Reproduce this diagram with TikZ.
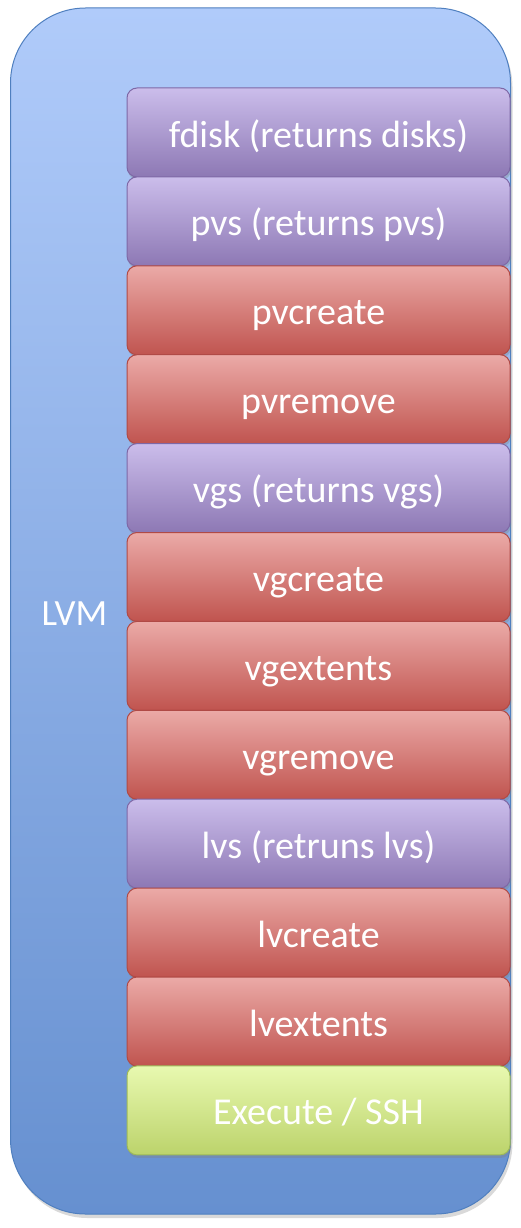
\documentclass[tikz,border=0pt]{standalone}
\usepackage{fontspec}
\setmainfont{Carlito}
\usetikzlibrary{shadows}
\definecolor{purpT}{HTML}{CBBDEB}
\definecolor{purpB}{HTML}{8D78B4}
\definecolor{purpD}{HTML}{7E68A6}
\definecolor{redT}{HTML}{EBAAA7}
\definecolor{redB}{HTML}{C0544F}
\definecolor{redD}{HTML}{B04A46}
\definecolor{grnT}{HTML}{E8F9B0}
\definecolor{grnB}{HTML}{BCD36B}
\definecolor{grnD}{HTML}{9DB959}
\definecolor{bluT}{HTML}{B0CBFA}
\definecolor{bluB}{HTML}{6690D0}
\definecolor{bluD}{HTML}{4F7FBF}
\tikzset{
  cmdbox/.style={rectangle, rounded corners=10pt, minimum width=383pt, minimum height=89pt,
    text=white, font=\fontsize{38}{42}\selectfont, line width=1pt,
    text height=36pt, text depth=7pt,
    drop shadow={shadow xshift=1pt, shadow yshift=-3pt, opacity=0.35}},
  purp/.style={cmdbox, draw=purpD, top color=purpT, bottom color=purpB},
  redb/.style={cmdbox, draw=redD, top color=redT, bottom color=redB},
  grnb/.style={cmdbox, draw=grnD, top color=grnT, bottom color=grnB},
}
\begin{document}
\begin{tikzpicture}[x=1pt,y=-1pt]
\useasboundingbox (0,0) rectangle (521,1228);
\node[rectangle, rounded corners=75pt, minimum width=500pt, minimum height=1206pt,
  draw=bluD, line width=1pt, top color=bluT, bottom color=bluB,
  drop shadow={shadow xshift=2pt, shadow yshift=-4pt, opacity=0.3}] (lvmbox) at (260.5,611) {};
\node[text=white, font=\fontsize{37}{42}\selectfont] (lvm) at (74.5,614) {LVM};
\node[purp] (n1)  at (318.5, 132.5) {fdisk (returns disks)};
\node[purp] (n2)  at (318.5, 221.4) {pvs (returns pvs)};
\node[redb] (n3)  at (318.5, 310.3) {pvcreate};
\node[redb] (n4)  at (318.5, 399.2) {pvremove};
\node[purp] (n5)  at (318.5, 488.1) {vgs (returns vgs)};
\node[redb] (n6)  at (318.5, 577.0) {vgcreate};
\node[redb] (n7)  at (318.5, 665.9) {vgextents};
\node[redb] (n8)  at (318.5, 754.8) {vgremove};
\node[purp] (n9)  at (318.5, 843.7) {lvs (retruns lvs)};
\node[redb] (n10) at (318.5, 932.6) {lvcreate};
\node[redb] (n11) at (318.5, 1021.5) {lvextents};
\node[grnb] (n12) at (318.5, 1110.4) {Execute / SSH};
\end{tikzpicture}
\end{document}
